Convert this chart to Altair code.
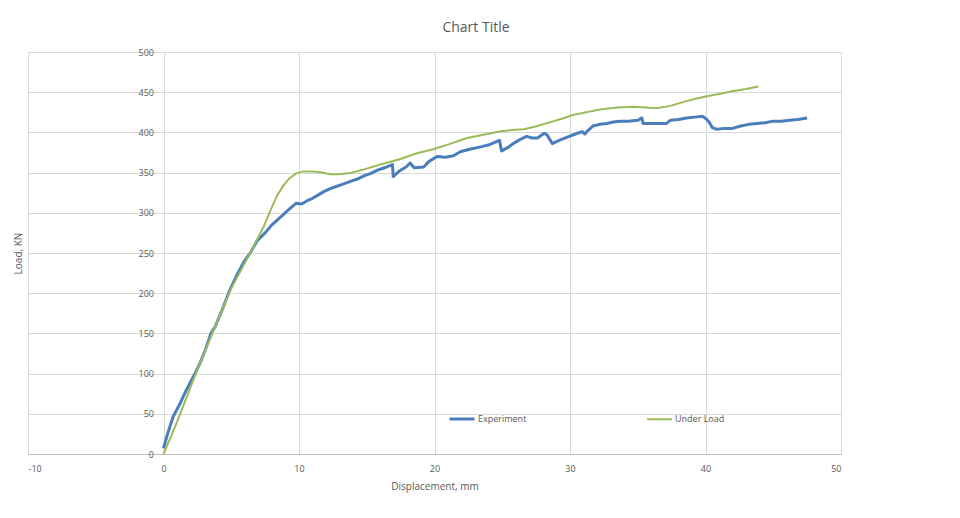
import altair as alt
import pandas as pd

exp_x = [0.0, 0.3, 0.7, 1.2, 1.7, 2.2, 2.7, 3.1, 3.5, 3.8, 4.3, 4.9, 5.4, 5.9, 6.4, 6.9, 7.5, 8.0, 8.8, 9.3,
         9.8, 10.2, 10.6, 11.0, 11.4, 11.8, 12.3, 12.8, 13.3, 13.8, 14.3, 14.8, 15.3, 15.8, 16.3, 16.9, 16.95,
         17.4, 17.9, 18.2, 18.5, 19.2, 19.6, 20.2, 20.8, 21.4, 21.9, 22.6, 23.4, 24.1, 24.8, 24.95, 25.4, 25.8,
         26.3, 26.8, 27.2, 27.6, 28.1, 28.3, 28.7, 29.2, 29.8, 30.4, 30.9, 31.1, 31.3, 31.7, 32.2, 32.7, 33.2,
         33.7, 34.3, 35.0, 35.3, 35.4, 37.1, 37.4, 38.0, 38.6, 39.2, 39.8, 40.1, 40.3, 40.5, 40.8, 41.4, 42.0,
         42.6, 43.2, 43.8, 44.4, 45.0, 45.6, 46.2, 46.8, 47.5]
exp_y = [7, 25, 46, 62, 80, 96, 113, 130, 150, 158, 178, 204, 222, 238, 250, 265, 275, 285, 297, 305,
         312, 311, 315, 318, 322, 326, 330, 333, 336, 339, 342, 346, 349, 353, 356, 360, 345,
         352, 357, 362, 356, 357, 364, 370, 369, 371, 376, 379, 382, 385, 390, 377, 381, 386,
         391, 395, 393, 393, 399, 397, 386, 390, 394, 398, 401, 398, 402, 408, 410, 411, 413,
         414, 414, 415, 418, 411, 411, 415, 416, 418, 419, 420, 416, 412, 406, 404, 405, 405,
         408, 410, 411, 412, 414, 414, 415, 416, 418]

load_x = [0, 1.0, 2.2, 3.0, 3.9, 5.0, 6.4, 7.4, 8.0, 8.4, 8.9, 9.3, 9.8, 10.3, 11.0, 11.7, 12.3, 12.9, 13.8,
          14.8, 16.2, 17.5, 18.7, 19.9, 21.2, 22.4, 23.6, 24.8, 25.7, 26.6, 27.6, 28.5, 29.4, 30.2, 31.2,
          32.2, 33.5, 34.7, 35.6, 36.4, 37.4, 38.4, 39.2, 40.1, 41.1, 42.05, 43.0, 43.9]
load_y = [0, 40, 92, 125, 162, 206, 250, 283, 307, 322, 335, 343, 349, 351.5, 351.5, 350, 348, 348, 349.5,
          354, 361, 367, 374, 379, 386, 393, 397, 401, 403, 404, 408, 412.5, 417, 421.6, 425,
          428.5, 431, 432, 431, 430, 433, 438, 441.5, 445, 448, 451.5, 454, 457]

series_names = ["Experiment", "Under Load"]
x_ticks = [-10, 0, 10, 20, 30, 40, 50]
y_ticks = [0, 50, 100, 150, 200, 250, 300, 350, 400, 450, 500]

rows = []
for i, (x, y) in enumerate(zip(exp_x, exp_y)):
    rows.append({"x": x, "y": y, "series": series_names[0], "order": i})
for i, (x, y) in enumerate(zip(load_x, load_y)):
    rows.append({"x": x, "y": y, "series": series_names[1], "order": i})
df = pd.DataFrame(rows)

FONT = "Open Sans"
TXT = "#595959"
GRID = "#d9d9d9"

W, H = 813, 402

chart = alt.Chart(df).mark_line(strokeJoin="round").encode(
    x=alt.X("x:Q", scale=alt.Scale(domain=[-10, 50], nice=False, zero=False),
            axis=alt.Axis(values=x_ticks, title="Displacement, mm", grid=True, gridColor=GRID,
                          domainColor="#bfbfbf", ticks=False, labelPadding=10, titlePadding=8,
                          labelExpr="datum.value < 0 ? '-' + abs(datum.value) : datum.label",
                          labelFontSize=9, titleFontSize=10, labelColor=TXT, titleColor=TXT,
                          labelFont=FONT, titleFont=FONT, titleFontWeight="normal")),
    y=alt.Y("y:Q", scale=alt.Scale(domain=[0, 500], nice=False),
            axis=alt.Axis(values=y_ticks, title="Load, KN", grid=True, gridColor=GRID,
                          domain=False, ticks=False, labelPadding=10, offset=-135.5,
                          labelFontSize=9, titleFontSize=10, labelColor=TXT, titleColor=TXT,
                          labelFont=FONT, titleFont=FONT, titleFontWeight="normal",
                          titleX=-145, titleY=H / 2, titleAngle=270, titleAlign="center",
                          titleBaseline="middle")),
    color=alt.Color("series:N", scale=alt.Scale(domain=series_names, range=["#4a7ebb", "#9bbb59"]),
                    legend=alt.Legend(title=None, orient="none", legendX=420, legendY=353,
                                      direction="horizontal", symbolType="stroke", symbolSize=625,
                                      symbolStrokeWidth=2.5, columnPadding=116, labelOffset=2,
                                      labelFontSize=9, labelColor=TXT, labelFont=FONT)),
    strokeWidth=alt.StrokeWidth("series:N", scale=alt.Scale(domain=series_names, range=[3, 2]),
                                legend=None),
    order="order:Q",
    detail="series:N",
).properties(
    width=W, height=H,
    title=alt.TitleParams("Chart Title", fontSize=14, font=FONT, color=TXT, fontWeight="normal",
                          anchor="middle", dx=41.5, offset=13),
    autosize=alt.AutoSizeParams(type="none"),
    padding={"left": 20, "top": 44, "right": 100, "bottom": 50},
).configure_view(stroke=GRID).configure(background="white")

chart.save("out.html", embed_options={"renderer": "svg", "actions": False})
